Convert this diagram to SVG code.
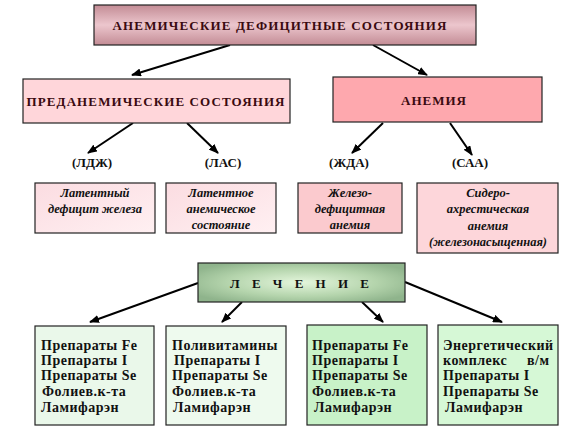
<svg xmlns="http://www.w3.org/2000/svg" width="576" height="444" viewBox="0 0 576 444">
<defs>
<linearGradient id="gTop" x1="0" y1="0" x2="0" y2="1">
<stop offset="0" stop-color="#c38c95"/><stop offset="0.5" stop-color="#ecc6cd"/><stop offset="1" stop-color="#c38c95"/>
</linearGradient>
<radialGradient id="gGreen" cx="0.5" cy="0.5" r="0.6">
<stop offset="0" stop-color="#e4f6dc"/><stop offset="0.6" stop-color="#b4d4ac"/><stop offset="1" stop-color="#8fb48c"/>
</radialGradient>
<linearGradient id="gPink" x1="0" y1="0" x2="1" y2="1">
<stop offset="0" stop-color="#fbdce1"/><stop offset="1" stop-color="#fff0f2"/>
</linearGradient>
<marker id="ah" markerWidth="10" markerHeight="8" refX="9" refY="4" orient="auto" markerUnits="userSpaceOnUse">
<path d="M0,0 L10,4 L0,8 Z" fill="#000"/>
</marker>
<style>
.box{stroke:#222;stroke-width:1.2}
.t{font-family:'Liberation Serif','DejaVu Serif','Noto Serif',serif;font-weight:bold;fill:#111}
.h{font-size:13px;letter-spacing:1px;text-anchor:middle;fill:#3a0a10}
.lab{font-size:13px;text-anchor:middle}
.it{font-size:12.5px;font-style:italic;text-anchor:middle}
.g{font-size:14px;letter-spacing:0.5px}
.c{stroke:#000;stroke-width:2;fill:none;marker-end:url(#ah)}
</style>
</defs>
<rect width="576" height="444" fill="#fff"/>

<g id="connectors">
<line class="c" x1="230" y1="45" x2="132" y2="75"/>
<line class="c" x1="373" y1="45" x2="427" y2="75"/>
<line class="c" x1="133" y1="123" x2="88" y2="153"/>
<line class="c" x1="187" y1="123" x2="218" y2="153"/>
<line class="c" x1="383" y1="123" x2="352" y2="153"/>
<line class="c" x1="450" y1="123" x2="472" y2="155"/>
<line class="c" x1="198" y1="283" x2="90" y2="322"/>
<line class="c" x1="242" y1="302" x2="222" y2="322"/>
<line class="c" x1="362" y1="302" x2="383" y2="322"/>
<line class="c" x1="405" y1="282" x2="502" y2="322"/>
</g>

<g id="top">
<rect class="box" x="94" y="5" width="382" height="40" fill="url(#gTop)"/>
<text class="t h" x="280" y="30" textLength="335" lengthAdjust="spacing" font-family="Liberation Serif, serif">АНЕМИЧЕСКИЕ ДЕФИЦИТНЫЕ СОСТОЯНИЯ</text>
</g>

<g id="preanemic">
<rect class="box" x="23" y="79" width="267" height="44" fill="#ffd6da"/>
<text class="t h" x="156" y="106" textLength="259" lengthAdjust="spacing">ПРЕДАНЕМИЧЕСКИЕ СОСТОЯНИЯ</text>
</g>

<g id="anemia">
<rect class="box" x="333" y="77" width="209" height="45" fill="#fea8ae"/>
<text class="t h" x="434" y="105" textLength="66" lengthAdjust="spacing">АНЕМИЯ</text>
</g>

<g id="ldzh"><text class="t lab" x="92" y="167">(ЛДЖ)</text></g>
<g id="las"><text class="t lab" x="223" y="167">(ЛАС)</text></g>
<g id="zhda"><text class="t lab" x="349" y="167">(ЖДА)</text></g>
<g id="saa"><text class="t lab" x="470" y="167">(САА)</text></g>

<g id="box-ldzh">
<rect class="box" x="35" y="183" width="120" height="50" fill="url(#gPink)"/>
<text class="t it" x="95" y="197">Латентный</text>
<text class="t it" x="95" y="213">дефицит железа</text>
</g>
<g id="box-las">
<rect class="box" x="166" y="183" width="110" height="50" fill="url(#gPink)"/>
<text class="t it" x="221" y="197">Латентное</text>
<text class="t it" x="221" y="213">анемическое</text>
<text class="t it" x="221" y="229">состояние</text>
</g>
<g id="box-zhda">
<rect class="box" x="298" y="183" width="104" height="50" fill="#fbcace"/>
<text class="t it" x="350" y="197">Железо-</text>
<text class="t it" x="350" y="213">дефицитная</text>
<text class="t it" x="350" y="229">анемия</text>
</g>
<g id="box-saa">
<rect class="box" x="417" y="183" width="141" height="70" fill="#fdd6da"/>
<text class="t it" x="488" y="197">Сидеро-</text>
<text class="t it" x="488" y="213">ахрестическая</text>
<text class="t it" x="488" y="230">анемия</text>
<text class="t it" x="488" y="246">(железонасыщенная)</text>
</g>

<g id="lechenie">
<rect class="box" x="198" y="263" width="207" height="39" fill="url(#gGreen)"/>
<text class="t h" x="300" y="288" textLength="140" lengthAdjust="spacing" style="fill:#111">Л Е Ч Е Н И Е</text>
</g>

<g id="treat1">
<rect class="box" x="35" y="326" width="119" height="99" fill="#eaf8ea"/>
<text class="t g" x="41" y="350">Препараты Fe</text>
<text class="t g" x="41" y="365">Препараты I</text>
<text class="t g" x="41" y="380">Препараты Se</text>
<text class="t g" x="42" y="396">Фолиев.к-та</text>
<text class="t g" x="41" y="412">Ламифарэн</text>
</g>
<g id="treat2">
<rect class="box" x="166" y="326" width="120" height="99" fill="#eefaee"/>
<text class="t g" x="172" y="350">Поливитамины</text>
<text class="t g" x="174" y="365">Препараты I</text>
<text class="t g" x="172" y="380">Препараты Se</text>
<text class="t g" x="172" y="396">Фолиев.к-та</text>
<text class="t g" x="173" y="412">Ламифарэн</text>
</g>
<g id="treat3">
<rect class="box" x="307" y="325" width="120" height="100" fill="#c8f2c8"/>
<text class="t g" x="312" y="350">Препараты Fe</text>
<text class="t g" x="312" y="365">Препараты I</text>
<text class="t g" x="312" y="380">Препараты Se</text>
<text class="t g" x="312" y="396">Фолиев.к-та</text>
<text class="t g" x="314" y="412">Ламифарэн</text>
</g>
<g id="treat4">
<rect class="box" x="438" y="325" width="120" height="100" fill="#d6f8d6"/>
<text class="t g" x="443" y="350">Энергетический</text>
<text class="t g" x="443" y="365">комплекс<tspan x="527">в/м</tspan></text>
<text class="t g" x="443" y="380">Препараты I</text>
<text class="t g" x="443" y="396">Препараты Se</text>
<text class="t g" x="445" y="412">Ламифарэн</text>
</g>
</svg>
